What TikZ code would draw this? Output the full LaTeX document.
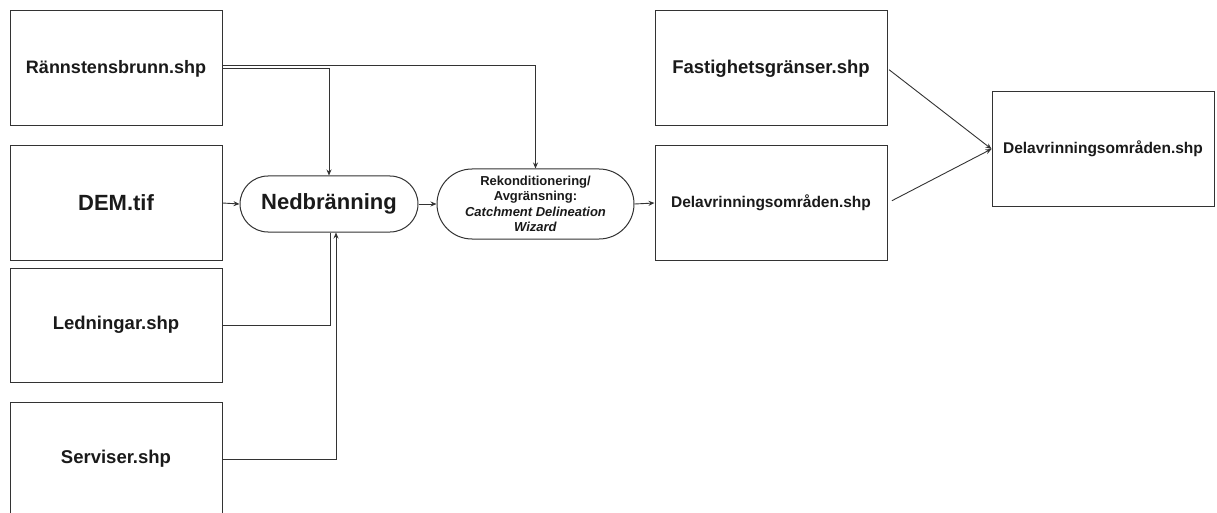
\documentclass[tikz,border=0pt]{standalone}
\usepackage{fontspec}
\setmainfont{Liberation Sans}
\usetikzlibrary{arrows.meta}
\definecolor{linegray}{HTML}{333333}
\definecolor{textgray}{HTML}{1A1A1A}
\tikzset{
  databox/.style={draw=linegray, line width=1pt, rectangle, inner sep=0pt, align=center, text=textgray},
  pill/.style={draw=linegray, line width=1pt, rectangle, rounded corners=#1, inner sep=0pt, align=center, text=textgray},
  conn/.style={draw=linegray, line width=0.9pt},
  arr/.style={conn, -{Stealth[length=6pt,width=5pt]}},
  fsz/.style={font={\bfseries\fontsize{#1}{#1}\selectfont}},
}
\begin{document}
\begin{tikzpicture}[x=1pt,y=-1pt]
\clip (0,0) rectangle (1217,513);
\fill[white] (0,0) rectangle (1217,513);

\node[databox, fsz=18, minimum width=212pt, minimum height=115pt] (rb) at (116,68.5) {Rännstensbrunn.shp};
\node[databox, fsz=22, minimum width=212pt, minimum height=114pt] (dem) at (116,203) {DEM.tif};
\node[databox, fsz=18.5, minimum width=212pt, minimum height=114pt] (led) at (116,325) {Ledningar.shp};
\node[databox, fsz=18.5, minimum width=212pt, minimum height=114pt] (ser) at (116,459) {Serviser.shp};

\node[pill=28pt, fsz=22, minimum width=178pt, minimum height=56pt] (ned) at (329,204) {Nedbränning};
\node[pill=35pt, font={\bfseries\fontsize{13}{15.5}\selectfont}, minimum width=197pt, minimum height=70pt] (rek) at (535.5,204)
  {Rekonditionering/\\Avgränsning:\\\textit{Catchment Delineation}\\\textit{Wizard}};

\node[databox, fsz=18.5, minimum width=232pt, minimum height=115pt] (fast) at (771,68.5) {Fastighetsgränser.shp};
\node[databox, fsz=15.5, minimum width=232pt, minimum height=114pt] (mid) at (771,203) {Delavrinningsområden.shp};
\node[databox, fsz=15.5, minimum width=222pt, minimum height=114pt] (fin) at (1103,149) {Delavrinningsområden.shp};

\draw[arr] ([yshift=3.5pt]rb.east) -| (rek.north);
\draw[arr] (rb.east) -| (ned.north);
\draw[arr] (dem.east) -- (ned.west);
\draw[conn] (led.east) -| ([xshift=1pt]ned.south);
\draw[arr] (ser.east) -| ([xshift=7pt]ned.south);
\draw[arr] (ned.east) -- (rek.west);
\draw[arr] (rek.east) -- (mid.west);
\draw[arr, shorten <=2pt] (fast.east) -- (fin.west);
\draw[arr, shorten <=5pt] (mid.east) -- (fin.west);
\end{tikzpicture}
\end{document}
